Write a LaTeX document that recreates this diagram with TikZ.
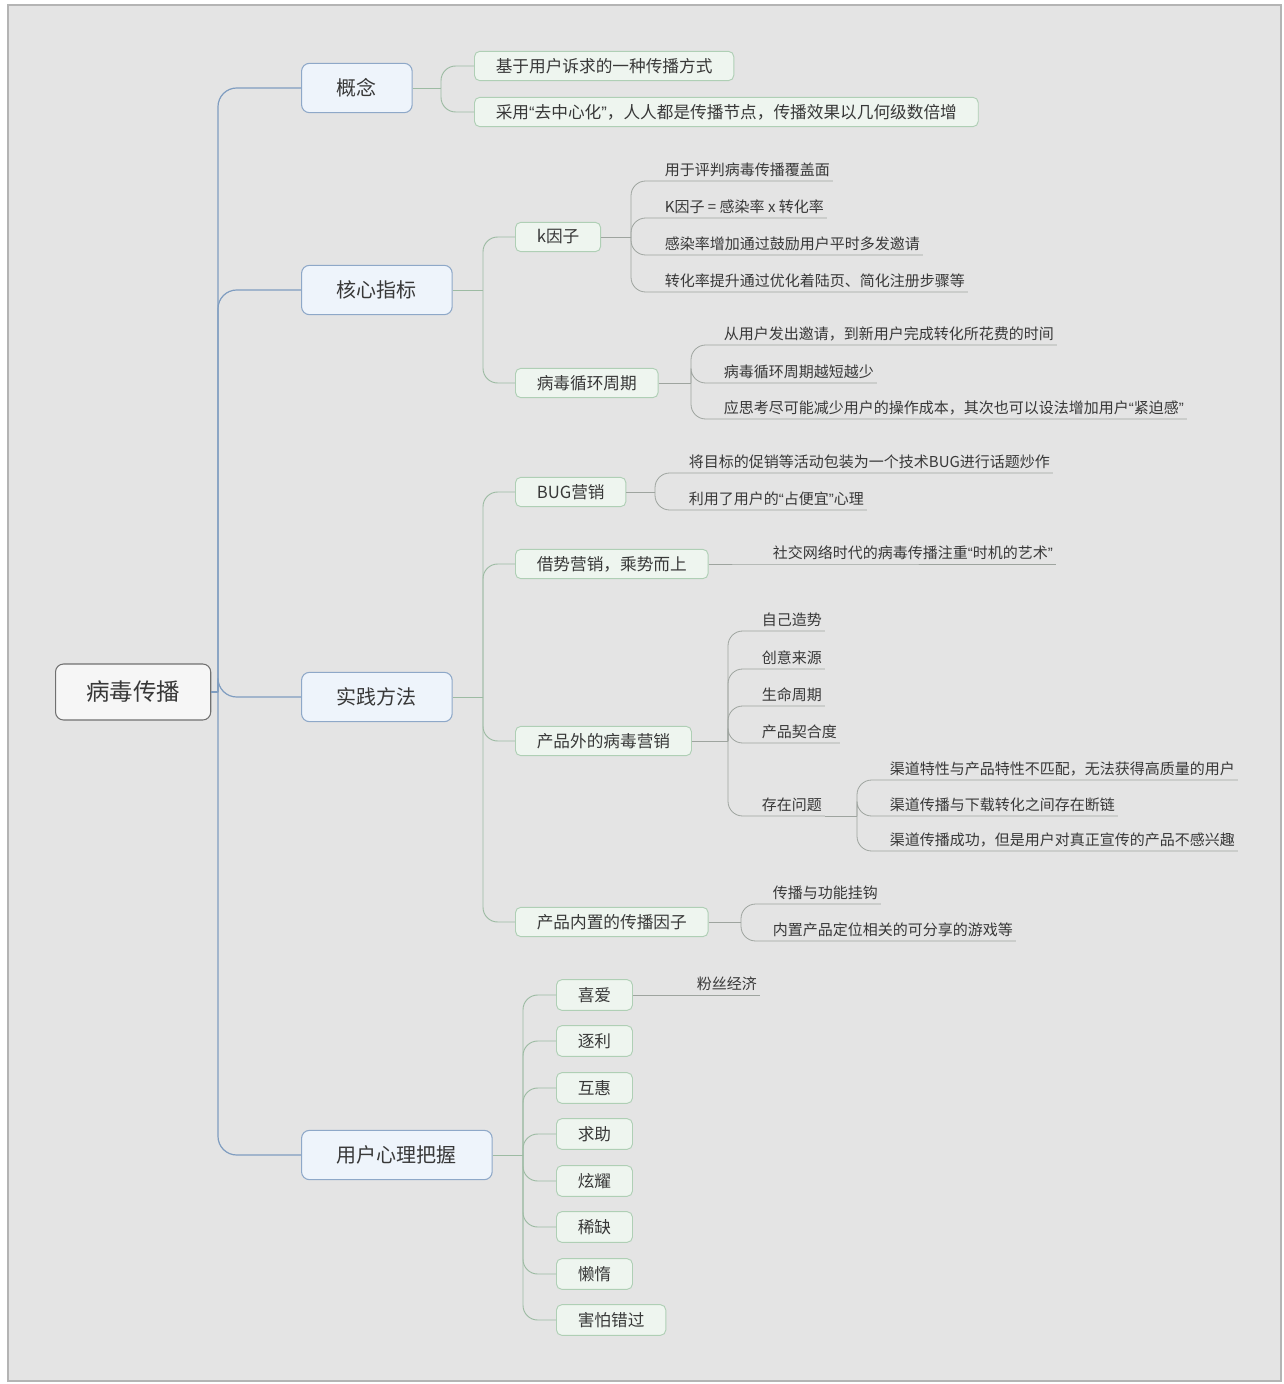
\documentclass[tikz,border=0pt]{standalone}
\usepackage{fontspec}
\setmainfont{Noto Sans CJK SC}
\newfontfamily\qfont{Liberation Sans}
\newcommand\oq{{\qfont “}}
\newcommand\cq{{\qfont ”}}
\definecolor{bgc}{HTML}{E4E4E4}
\definecolor{frame}{HTML}{B4B4B4}
\definecolor{txt}{HTML}{383838}
\definecolor{rootb}{HTML}{707070}
\definecolor{rootf}{HTML}{F6F6F6}
\definecolor{lab}{HTML}{8EA8C8}
\definecolor{laf}{HTML}{EEF4FB}
\definecolor{lbb}{HTML}{AFCFB5}
\definecolor{lbf}{HTML}{EEF5EF}
\definecolor{cone}{HTML}{7F9DC0}
\definecolor{ctwo}{HTML}{9DBBA3}
\definecolor{cthree}{HTML}{9EA49F}
\begin{document}
\begin{tikzpicture}[x=0.75pt,y=-0.75pt,
  rootbox/.style={draw=rootb,fill=rootf,rounded corners=6pt,line width=0.8pt,text=txt,
    font=\fontsize{17.6}{20}\selectfont,inner xsep=23pt,minimum height=42pt,anchor=west},
  lonebox/.style={draw=lab,fill=laf,rounded corners=6pt,line width=0.8pt,text=txt,
    font=\fontsize{15}{18}\selectfont,inner xsep=26.5pt,minimum height=37pt,anchor=west},
  ltwobox/.style={draw=lbb,fill=lbf,rounded corners=4pt,line width=0.7pt,text=txt,
    font=\fontsize{12.5}{15}\selectfont,inner xsep=16pt,minimum height=22pt,anchor=west},
  psybox/.style={ltwobox,minimum height=23pt},
  leaf/.style={text=txt,font=\fontsize{11.25}{13}\selectfont,inner xsep=2pt,inner ysep=1.5pt,
    text height=9pt,text depth=2.5pt,anchor=south west},
  cA/.style={draw=cone,line width=0.9pt,rounded corners=14pt},
  cB/.style={draw=ctwo,line width=0.7pt,rounded corners=11pt},
  cC/.style={draw=cthree,line width=0.6pt,rounded corners=11pt}]
\useasboundingbox (0,0) rectangle (1283,1384);
\fill[white] (0,0) rectangle (1283,1384);
\draw[frame,fill=bgc,line width=0.8pt] (8,5) rectangle (1281,1381);

% root and level 1
\node[rootbox] (root) at (55,692) {病毒传播};
\node[lonebox] (gn) at (301,88) {概念};
\node[lonebox] (hx) at (301,290) {核心指标};
\node[lonebox] (sj) at (301,697) {实践方法};
\node[lonebox] (yh) at (301,1155) {用户心理把握};

\coordinate (rj) at (218,692);
\draw[cA] (root.east) -- (rj);
\draw[cA] (rj) |- (gn.west);
\draw[cA] (rj) |- (hx.west);
\draw[cA] (rj) |- (sj.west);
\draw[cA] (rj) |- (yh.west);

% 概念
\node[ltwobox] (g1) at (474,66) {基于用户诉求的一种传播方式};
\node[ltwobox] (g2) at (474,112) {采用\oq 去中心化\cq，人人都是传播节点，传播效果以几何级数倍增};
\coordinate (gj) at (441,88);
\draw[cB] (gn.east) -- (gj);
\draw[cB] (gj) |- (g1.west);
\draw[cB] (gj) |- (g2.west);

% 核心指标
\node[ltwobox] (kf) at (515,237) {k因子};
\node[ltwobox] (bd) at (515,383) {病毒循环周期};
\coordinate (hj) at (483,290);
\draw[cB] (hx.east) -- (hj);
\draw[cB] (hj) |- (kf.west);
\draw[cB] (hj) |- (bd.west);

\node[leaf] (a1) at (662,181) {用于评判病毒传播覆盖面};
\node[leaf] (a2) at (662,218) {K因子 = 感染率 x 转化率};
\node[leaf] (a3) at (662,255) {感染率增加通过鼓励用户平时多发邀请};
\node[leaf] (a4) at (662,292) {转化率提升通过优化着陆页、简化注册步骤等};
\coordinate (kj) at (631,237);
\draw[cC] (kf.east) -- (kj);
\foreach \n in {a1,a2,a3,a4} \draw[cC] (kj) |- (\n.south west) -- (\n.south east);

\node[leaf] (b1) at (721,345) {从用户发出邀请，到新用户完成转化所花费的时间};
\node[leaf] (b2) at (721,383) {病毒循环周期越短越少};
\node[leaf] (b3) at (721,419) {应思考尽可能减少用户的操作成本，其次也可以设法增加用户\oq 紧迫感\cq};
\coordinate (bj) at (691,383);
\draw[cC] (bd.east) -- (bj);
\foreach \n in {b1,b2,b3} \draw[cC] (bj) |- (\n.south west) -- (\n.south east);

% 实践方法
\node[ltwobox] (bug) at (515,492) {BUG营销};
\node[ltwobox] (js) at (515,564) {借势营销，乘势而上};
\node[ltwobox] (cw) at (515,741) {产品外的病毒营销};
\node[ltwobox] (cn) at (515,922) {产品内置的传播因子};
\coordinate (pj) at (483,697);
\draw[cB] (sj.east) -- (pj);
\foreach \n in {bug,js,cw,cn} \draw[cB] (pj) |- (\n.west);

\node[leaf] (c1) at (686,473) {将目标的促销等活动包装为一个技术BUG进行话题炒作};
\node[leaf] (c2) at (686,510) {利用了用户的\oq 占便宜\cq 心理};
\coordinate (cj) at (655,492);
\draw[cC] (bug.east) -- (cj);
\foreach \n in {c1,c2} \draw[cC] (cj) |- (\n.south west) -- (\n.south east);

\node[leaf] (d1) at (770,564) {社交网络时代的病毒传播注重\oq 时机的艺术\cq};
\draw[cC] (js.east) -- (d1.south west) -- (d1.south east);

\node[leaf] (e1) at (759,631) {自己造势};
\node[leaf] (e2) at (759,669) {创意来源};
\node[leaf] (e3) at (759,706) {生命周期};
\node[leaf] (e4) at (759,743) {产品契合度};
\node[leaf] (e5) at (759,816) {存在问题};
\coordinate (ej) at (728,741);
\draw[cC] (cw.east) -- (ej);
\foreach \n in {e1,e2,e3,e4,e5} \draw[cC] (ej) |- (\n.south west) -- (\n.south east);

\node[leaf] (f1) at (887,780) {渠道特性与产品特性不匹配，无法获得高质量的用户};
\node[leaf] (f2) at (887,816) {渠道传播与下载转化之间存在断链};
\node[leaf] (f3) at (887,851) {渠道传播成功，但是用户对真正宣传的产品不感兴趣};
\coordinate (fj) at (857,816);
\draw[cC] (e5.south east) -- (fj);
\foreach \n in {f1,f2,f3} \draw[cC] (fj) |- (\n.south west) -- (\n.south east);

\node[leaf] (g3) at (770,904) {传播与功能挂钩};
\node[leaf] (g4) at (770,941) {内置产品定位相关的可分享的游戏等};
\coordinate (nj) at (741,922);
\draw[cC] (cn.east) -- (nj);
\foreach \n in {g3,g4} \draw[cC] (nj) |- (\n.south west) -- (\n.south east);

% 用户心理把握
\node[psybox] (p1) at (556,995) {喜爱};
\node[psybox] (p2) at (556,1041) {逐利};
\node[psybox] (p3) at (556,1088) {互惠};
\node[psybox] (p4) at (556,1134) {求助};
\node[psybox] (p5) at (556,1181) {炫耀};
\node[psybox] (p6) at (556,1227) {稀缺};
\node[psybox] (p7) at (556,1274) {懒惰};
\node[psybox] (p8) at (556,1320) {害怕错过};
\coordinate (uj) at (523,1155);
\draw[cB] (yh.east) -- (uj);
\foreach \n in {p1,p2,p3,p4,p5,p6,p7,p8} \draw[cB] (uj) |- (\n.west);

\node[leaf] (h1) at (694,995) {粉丝经济};
\draw[cC] (p1.east) -- (h1.south west) -- (h1.south east);
\end{tikzpicture}
\end{document}
